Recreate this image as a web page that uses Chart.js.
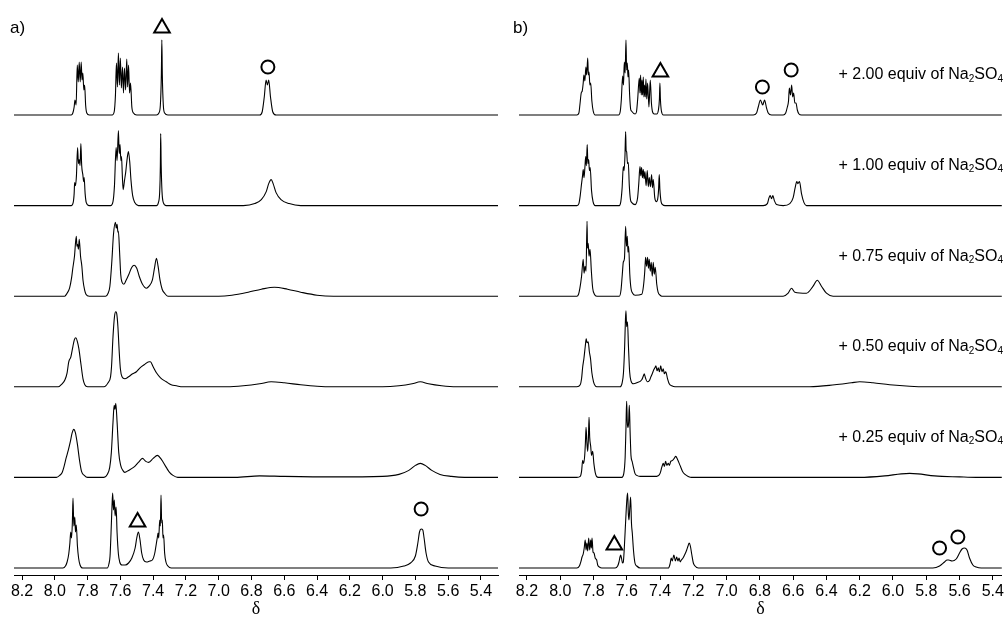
<!DOCTYPE html>
<html>
<head>
<meta charset="utf-8">
<script src="https://cdn.jsdelivr.net/npm/chart.js@4.4.1/dist/chart.umd.min.js"></script>
<style>
  html, body { margin: 0; padding: 0; background: #fff; }
  #wrap { position: relative; width: 1006px; height: 624px; }
  canvas { position: absolute; top: 0; }
  #panelA { left: 0; }
  #panelB { left: 503px; }
</style>
</head>
<body>
<div id="wrap">
  <canvas id="panelA" width="503" height="624"></canvas>
  <canvas id="panelB" width="503" height="624"></canvas>
</div>
<script>
// chemical shift ticks (ppm)
const tickVals = [8.2, 8.0, 7.8, 7.6, 7.4, 7.2, 7.0, 6.8, 6.6, 6.4, 6.2, 6.0, 5.8, 5.6, 5.4];

// equivalents of Na2SO4, top spectrum first (bottom one has no label)
const equivAmounts = ['2.00', '1.00', '0.75', '0.50', '0.25'];

// panel a) spectra, [ppm, intensity], top to bottom
const a1 = [[8.25,0],[7.90,0],[7.89,2],[7.882,8],[7.877,15],[7.870,10],[7.863,50],[7.857,33],[7.851,53],[7.845,33],[7.839,53],[7.834,35],[7.829,42],[7.823,25],[7.818,30],[7.812,10],[7.805,2],[7.79,0],
  [7.65,0],[7.638,3],[7.630,20],[7.624,52],[7.618,28],[7.612,62],[7.606,30],[7.600,57],[7.594,27],[7.587,48],[7.581,22],[7.575,47],[7.568,25],[7.561,56],[7.556,28],[7.550,50],[7.544,22],[7.538,32],[7.530,8],[7.52,2],[7.50,0],
  [7.38,0],[7.365,2],[7.356,10],[7.350,40],[7.347,75],[7.344,40],[7.338,10],[7.330,2],[7.31,0],
  [6.75,0],[6.735,3],[6.722,18],[6.711,35],[6.703,30],[6.695,35],[6.684,18],[6.67,3],[6.65,0],[5.29,0]];
const a2 = [[8.25,0],[7.90,0],[7.888,3],[7.882,12],[7.879,23],[7.874,20],[7.868,30],[7.861,58],[7.856,42],[7.851,46],[7.846,40],[7.841,62],[7.836,40],[7.829,31],[7.824,24],[7.821,28],[7.815,12],[7.808,3],[7.79,0],
  [7.66,0],[7.645,4],[7.636,20],[7.626,58],[7.620,45],[7.612,75],[7.607,52],[7.602,61],[7.597,45],[7.593,49],[7.588,30],[7.583,16],[7.575,25],[7.567,34],[7.560,45],[7.551,54],[7.543,44],[7.535,25],[7.525,10],[7.512,3],[7.49,0],
  [7.38,0],[7.368,3],[7.36,14],[7.356,40],[7.354,72],[7.351,40],[7.346,14],[7.338,3],[7.32,0],
  [6.85,0],[6.78,2],[6.74,6],[6.71,14],[6.695,22],[6.68,26],[6.668,22],[6.65,13],[6.62,6],[6.57,2],[6.50,0],[5.29,0]];
const a3 = [[8.25,0],[7.94,0],[7.925,3],[7.91,8],[7.898,18],[7.891,27],[7.880,40],[7.869,60],[7.865,50],[7.861,52],[7.856,47],[7.851,57],[7.843,40],[7.835,30],[7.828,16],[7.818,6],[7.81,2],[7.79,0],
  [7.69,0],[7.675,3],[7.664,10],[7.652,35],[7.642,62],[7.63,74],[7.625,68],[7.62,72],[7.615,64],[7.612,65],[7.605,45],[7.598,22],[7.59,14],[7.579,12],[7.565,16],[7.548,22],[7.53,29],[7.516,31],[7.50,28],[7.485,20],[7.465,12],[7.441,8],[7.425,10],[7.405,16],[7.392,28],[7.38,38],[7.37,30],[7.358,16],[7.345,7],[7.33,3],[7.31,0],
  [7.0,0],[6.92,1],[6.82,4],[6.74,7],[6.66,9],[6.58,7],[6.50,4],[6.40,1],[6.3,0],[5.29,0]];
const a4 = [[8.25,0],[7.98,0],[7.955,3],[7.938,7],[7.925,14],[7.915,25],[7.902,30],[7.89,40],[7.881,47],[7.871,49],[7.862,45],[7.853,38],[7.84,22],[7.828,8],[7.817,2],[7.80,0],
  [7.70,0],[7.675,4],[7.66,10],[7.654,20],[7.645,50],[7.636,70],[7.628,75],[7.622,73],[7.615,60],[7.607,35],[7.60,18],[7.59,10],[7.573,8],[7.55,10],[7.525,13],[7.502,15],[7.48,19],[7.455,22],[7.425,25],[7.417,25],[7.40,20],[7.38,14],[7.355,9],[7.32,5],[7.29,2],[7.258,1],[7.22,0],
  [6.95,0],[6.85,1],[6.75,3],[6.68,5],[6.60,4],[6.50,2],[6.40,0.5],[6.3,0],[6.0,0],[5.90,1],[5.82,3],[5.77,5],[5.72,3],[5.64,1],[5.55,0],[5.29,0]];
const a5 = [[8.25,0],[7.99,0],[7.97,2],[7.955,5],[7.945,10],[7.93,20],[7.918,27],[7.905,36],[7.895,44],[7.884,48],[7.875,45],[7.862,33],[7.85,18],[7.837,6],[7.82,2],[7.80,0],
  [7.70,0],[7.68,3],[7.665,10],[7.655,25],[7.645,55],[7.638,72],[7.633,68],[7.628,74],[7.62,55],[7.61,25],[7.598,12],[7.585,7],[7.573,5],[7.55,7],[7.52,10],[7.49,15],[7.465,19],[7.445,16],[7.427,15],[7.40,19],[7.374,22],[7.35,18],[7.32,10],[7.30,5],[7.279,2],[7.25,0],
  [6.9,0],[6.75,1.5],[6.6,1],[6.3,0.5],[6.0,1],[5.90,3],[5.84,7],[5.80,12],[5.77,14],[5.74,12],[5.70,7],[5.65,3],[5.58,1],[5.5,0],[5.29,0]];
const a6 = [[8.25,0],[7.95,0],[7.935,2],[7.925,6],[7.915,14],[7.908,25],[7.903,36],[7.898,30],[7.893,45],[7.889,70],[7.884,42],[7.878,51],[7.874,36],[7.869,43],[7.862,22],[7.855,10],[7.846,3],[7.83,0],
  [7.68,0],[7.67,4],[7.663,12],[7.657,35],[7.651,62],[7.647,75],[7.642,58],[7.637,68],[7.632,52],[7.626,61],[7.62,35],[7.612,14],[7.604,6],[7.59,3],[7.57,3],[7.55,5],[7.53,10],[7.51,20],[7.50,30],[7.49,36],[7.48,28],[7.47,15],[7.458,8],[7.44,6],[7.42,7],
  [7.405,8],[7.39,15],[7.38,25],[7.375,30],[7.370,35],[7.366,30],[7.360,48],[7.356,42],[7.352,73],[7.348,45],[7.344,48],[7.34,30],[7.336,33],[7.33,15],[7.322,6],[7.31,2],[7.29,0],
  [5.95,0],[5.87,2],[5.83,5],[5.80,12],[5.785,25],[5.775,36],[5.765,39],[5.755,38],[5.747,30],[5.735,15],[5.72,6],[5.68,2],[5.6,0],[5.29,0]];

// panel b) spectra, [ppm, intensity], top to bottom
const b1 = [[8.25,0],[7.90,0],[7.888,2],[7.882,10],[7.874,22],[7.868,24],[7.862,32],[7.858,40],[7.852,34],[7.846,48],[7.841,40],[7.835,57],[7.831,40],[7.827,43],[7.822,30],[7.817,32],[7.810,14],[7.802,4],[7.79,0],
  [7.65,0],[7.64,3],[7.633,15],[7.625,39],[7.62,30],[7.615,53],[7.610,42],[7.605,75],[7.601,45],[7.597,52],[7.593,38],[7.589,45],[7.583,20],[7.577,6],[7.572,4],
  [7.55,1],[7.542,3],[7.535,15],[7.525,37],[7.521,22],[7.517,40],[7.513,20],[7.509,35],[7.505,20],[7.501,38],[7.497,18],[7.493,30],[7.489,18],[7.485,36],[7.480,16],[7.475,32],[7.467,8],[7.459,35],[7.452,12],[7.445,3],[7.435,1],
  [7.42,1],[7.41,5],[7.404,16],[7.401,32],[7.398,16],[7.392,4],[7.38,0],
  [6.84,0],[6.82,2],[6.81,8],[6.797,15],[6.783,10],[6.772,15],[6.76,7],[6.75,2],[6.73,0],
  [6.66,0],[6.645,2],[6.635,8],[6.628,14],[6.623,27],[6.616,20],[6.609,30],[6.603,18],[6.597,22],[6.59,12],[6.583,12],[6.575,5],[6.565,1],[6.55,0],[5.34,0]];
const b2 = [[8.25,0],[7.90,0],[7.888,2],[7.88,10],[7.872,22],[7.866,30],[7.862,36],[7.857,28],[7.852,38],[7.847,49],[7.843,40],[7.838,61],[7.834,42],[7.829,46],[7.825,35],[7.82,38],[7.812,15],[7.803,4],[7.79,0],
  [7.645,0],[7.636,4],[7.628,18],[7.621,39],[7.616,35],[7.611,50],[7.607,74],[7.604,55],[7.601,54],[7.596,42],[7.591,43],[7.585,20],[7.578,6],[7.57,3],
  [7.55,1],[7.535,8],[7.528,22],[7.521,39],[7.516,30],[7.511,38],[7.506,28],[7.501,36],[7.496,27],[7.491,34],[7.484,20],[7.477,35],[7.471,19],[7.465,28],[7.458,19],[7.451,31],[7.446,18],[7.441,26],[7.432,8],[7.422,4],[7.415,6],[7.409,16],[7.405,31],[7.401,16],[7.394,4],[7.385,1],[7.37,0],
  [6.78,0],[6.755,2],[6.745,8],[6.738,10],[6.73,7],[6.722,10],[6.713,5],[6.70,1],[6.66,0],[6.62,2],[6.60,8],[6.588,18],[6.578,24],[6.572,22],[6.562,24],[6.55,12],[6.535,3],[6.52,0],[5.34,0]];
const b3 = [[8.25,0],[7.90,0],[7.89,2],[7.882,8],[7.872,20],[7.862,37],[7.857,23],[7.851,30],[7.845,25],[7.839,75],[7.836,48],[7.832,53],[7.827,40],[7.821,47],[7.813,25],[7.805,8],[7.795,2],[7.78,0],
  [7.645,0],[7.635,6],[7.627,22],[7.621,34],[7.614,38],[7.607,70],[7.602,50],[7.597,60],[7.593,44],[7.589,50],[7.582,22],[7.575,8],[7.565,3],[7.55,1],
  [7.51,2],[7.50,10],[7.492,25],[7.487,39],[7.481,30],[7.475,39],[7.47,28],[7.465,37],[7.459,25],[7.453,34],[7.447,20],[7.441,34],[7.435,22],[7.429,29],[7.42,12],[7.412,4],[7.40,1],[7.39,0],
  [6.66,0],[6.63,3],[6.61,8],[6.59,4],[6.52,3],[6.48,10],[6.455,16],[6.43,10],[6.40,3],[6.36,0],[5.34,0]];
const b4 = [[8.25,0],[7.90,0],[7.88,2],[7.872,8],[7.865,20],[7.858,28],[7.85,40],[7.844,48],[7.839,44],[7.832,45],[7.825,35],[7.818,28],[7.81,14],[7.80,5],[7.79,1],[7.78,0],
  [7.64,0],[7.628,4],[7.62,14],[7.613,40],[7.608,68],[7.605,76],[7.601,60],[7.596,65],[7.59,40],[7.583,15],[7.575,6],[7.56,3],[7.54,4],
  [7.51,7],[7.5,11],[7.495,13],[7.488,9],[7.477,5],
  [7.465,6],[7.455,10],[7.447,13],[7.438,17],[7.431,19],[7.425,21],[7.418,16],[7.411,19],[7.404,15],[7.396,21],[7.389,15],[7.381,18],[7.374,13],[7.366,15],[7.355,8],[7.345,3],[7.33,1],[7.31,0],
  [6.5,0],[6.35,2],[6.25,4],[6.2,5],[6.12,4],[6.02,2],[5.9,0.5],[5.8,0],[5.34,0]];
const b5 = [[8.25,0],[7.90,0],[7.88,1],[7.872,6],[7.865,17],[7.86,14],[7.853,22],[7.849,34],[7.845,50],[7.84,35],[7.835,26],[7.831,38],[7.827,60],[7.823,40],[7.817,31],[7.812,22],[7.805,26],[7.798,14],[7.79,5],[7.782,1],[7.77,0],
  [7.63,0],[7.618,4],[7.61,20],[7.605,50],[7.601,76],[7.597,55],[7.593,50],[7.589,55],[7.585,72],[7.58,45],[7.575,22],[7.568,16],[7.56,10],[7.551,4],[7.54,2],[7.52,1],
  [7.42,1],[7.40,4],[7.39,10],[7.381,14],[7.374,11],[7.367,16],[7.359,12],[7.351,14],[7.344,12],[7.336,16],[7.325,17],[7.315,19],[7.306,21],[7.295,18],[7.28,12],[7.265,6],[7.25,3],[7.231,1],[7.21,0],
  [6.2,0],[6.05,1.5],[5.95,3.5],[5.9,4],[5.85,3.5],[5.75,1.5],[5.6,0.5],[5.5,0],[5.34,0]];
const b6 = [[8.25,0],[7.90,0],[7.885,2],[7.875,7],[7.869,11],[7.862,14],[7.856,20],[7.850,28],[7.845,18],[7.840,25],[7.835,17],[7.829,30],[7.823,18],[7.817,28],[7.813,20],[7.809,30],[7.803,16],[7.797,15],[7.79,10],[7.781,8],[7.775,3],[7.765,1],[7.75,0],
  [7.67,0],[7.655,2],[7.647,6],[7.641,11],[7.637,13],[7.632,10],[7.626,5],[7.621,6],
  [7.615,20],[7.606,50],[7.599,70],[7.595,75],[7.591,55],[7.587,48],[7.582,60],[7.577,71],[7.572,45],[7.567,35],[7.56,18],[7.551,5],[7.54,2],[7.52,0],
  [7.35,0],[7.34,4],[7.333,10],[7.327,7],[7.317,13],[7.308,7],[7.300,11],[7.293,7],[7.286,10],[7.279,6],[7.272,8],
  [7.262,10],[7.25,14],[7.24,18],[7.232,22],[7.225,25],[7.218,22],[7.21,14],[7.2,5],[7.19,2],[7.17,0],
  [5.76,0],[5.72,2],[5.69,6],[5.675,8],[5.665,8],[5.645,7],[5.62,9],[5.6,15],[5.585,19],[5.57,20],[5.555,18],[5.54,10],[5.52,3],[5.5,1],[5.47,0],[5.34,0]];

// signal markers: [spectrum row (0 = top), ppm, level above that baseline, shape]
const marksA = [[0, 7.346, 87, 'triangle'], [0, 6.70, 48, 'circle'], [5, 7.495, 46, 'triangle'], [5, 5.765, 59, 'circle']];
const marksB = [[0, 7.398, 43, 'triangle'], [0, 6.785, 28, 'circle'], [0, 6.612, 45, 'circle'],
  [5, 7.675, 23, 'triangle'], [5, 5.72, 20, 'circle'], [5, 5.61, 31, 'circle']];

const FONT = 'Arial, "Liberation Sans", sans-serif';
const ROW_STEP = 90.6;
const BOTTOM_BASE = 7;
const baseOf = row => BOTTOM_BASE + (5 - row) * ROW_STEP;

const panelText = {
  id: 'panelText',
  afterDraw(chart, args, opts) {
    const ctx = chart.ctx;
    const yScale = chart.scales.y;
    ctx.save();
    ctx.fillStyle = '#000';
    ctx.textBaseline = 'middle';
    ctx.font = '17px ' + FONT;
    ctx.fillText(opts.tag, opts.tagX, 28);

    (opts.rows || []).forEach((amt, i) => {
      const parts = [['+ ' + amt + ' equiv of Na', 16, 0], ['2', 10, 4], ['SO', 16, 0], ['4', 10, 4]];
      let total = 0;
      parts.forEach(p => {
        ctx.font = p[1] + 'px ' + FONT;
        p.push(ctx.measureText(p[0]).width);
        total += p[3];
      });
      let x = chart.width - 3 - total;
      const y = yScale.getPixelForValue(baseOf(i) + 40);
      ctx.textAlign = 'left';
      parts.forEach(p => {
        ctx.font = p[1] + 'px ' + FONT;
        ctx.fillText(p[0], x, y + p[2]);
        x += p[3];
      });
    });
    ctx.restore();
  }
};

function makePanel(id, spectra, marks, xMin, xMax, padLeft, padRight, tag, rows) {
  const datasets = spectra.map((s, i) => ({
    data: s.map(p => ({ x: p[0], y: p[1] + baseOf(i) })),
    showLine: true,
    borderColor: '#000',
    borderWidth: 1.1,
    pointRadius: 0,
    cubicInterpolationMode: 'monotone'
  }));

  ['triangle', 'circle'].forEach(shape => {
    const pts = marks.filter(m => m[3] === shape);
    datasets.push({
      data: pts.map(m => ({ x: m[1], y: baseOf(m[0]) + m[2] })),
      showLine: false,
      pointStyle: shape,
      pointRadius: shape === 'triangle' ? 9 : 6.5,
      pointBorderWidth: 2,
      pointBorderColor: '#000',
      pointBackgroundColor: 'rgba(0,0,0,0)'
    });
  });

  return new Chart(document.getElementById(id), {
    type: 'scatter',
    data: { datasets },
    plugins: [panelText],
    options: {
      responsive: false,
      animation: false,
      events: [],
      layout: { autoPadding: false, padding: { left: padLeft, right: padRight, top: 0, bottom: 0 } },
      plugins: {
        legend: { display: false },
        tooltip: { enabled: false },
        panelText: { tag, tagX: 10, rows }
      },
      scales: {
        x: {
          type: 'linear',
          reverse: true,
          min: xMin,
          max: xMax,
          afterBuildTicks: ax => { ax.ticks = tickVals.map(v => ({ value: v })); },
          afterFit: ax => { ax.height = 49; },
          ticks: {
            color: '#000',
            font: { family: FONT, size: 16 },
            padding: 2,
            maxRotation: 0,
            autoSkip: false,
            callback: v => v.toFixed(1)
          },
          grid: { drawOnChartArea: false, drawTicks: true, tickLength: 5, color: '#000' },
          border: { display: true, color: '#000', width: 1 },
          title: {
            display: true,
            text: 'δ',
            color: '#000',
            font: { family: '"Liberation Serif", "DejaVu Serif", serif', size: 18 },
            padding: { top: 0, bottom: 4 }
          }
        },
        y: { display: false, min: 0, max: 575 }
      }
    }
  });
}

makePanel('panelA', [a1, a2, a3, a4, a5, a6], marksA, 5.296, 8.249, 14, 5, 'a)', []);
makePanel('panelB', [b1, b2, b3, b4, b5, b6], marksB, 5.346, 8.248, 16, 4, 'b)', equivAmounts);
</script>
</body>
</html>
